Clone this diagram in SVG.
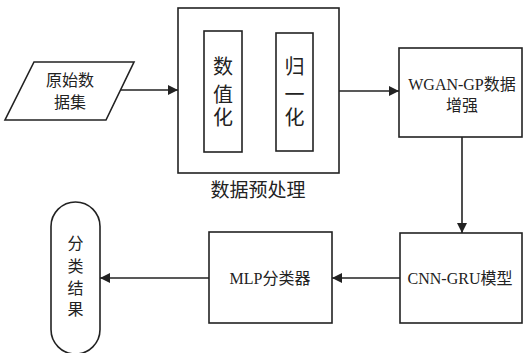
<svg xmlns="http://www.w3.org/2000/svg" width="523" height="353" viewBox="0 0 523 353">
<defs>
<marker id="ah" viewBox="0 0 10 10" refX="10" refY="5" markerWidth="10" markerHeight="10" markerUnits="userSpaceOnUse" orient="auto">
<path d="M0,0 L10,5 L0,10 z" fill="#222"/>
</marker>
</defs>
<style>
.s{fill:#fff;stroke:#222;stroke-width:1.6}
.t{font-family:"Liberation Serif","Noto Sans CJK SC",serif;fill:#222;text-anchor:middle}
.c{stroke:#222;stroke-width:1.6;fill:none;marker-end:url(#ah)}
</style>
<rect width="523" height="353" fill="#fff"/>
<g id="connectors">
<line class="c" x1="121" y1="90" x2="178" y2="90"/>
<line class="c" x1="339" y1="91" x2="399" y2="91"/>
<line class="c" x1="462" y1="137" x2="462" y2="233"/>
<line class="c" x1="400" y1="278" x2="332" y2="278"/>
<line class="c" x1="209" y1="278" x2="100" y2="278"/>
</g>
<g id="raw">
<polygon class="s" points="34,62 134,62 106,120 5,120"/>
<text class="t" x="70" y="86" font-size="16">原始数</text>
<text class="t" x="70" y="108" font-size="16">据集</text>
</g>
<g id="preprocess">
<rect class="s" x="178" y="8" width="161" height="165"/>
<text class="t" x="258" y="197" font-size="19">数据预处理</text>
</g>
<g id="numeric">
<rect class="s" x="204" y="31" width="38" height="121"/>
<text class="t" x="223" y="74" font-size="20">数</text>
<text class="t" x="223" y="102" font-size="20">值</text>
<text class="t" x="223" y="125" font-size="20">化</text>
</g>
<g id="normalize">
<rect class="s" x="276" y="33" width="37" height="118"/>
<text class="t" x="294.5" y="74" font-size="20">归</text>
<text class="t" x="294.5" y="102" font-size="20">一</text>
<text class="t" x="294.5" y="125" font-size="20">化</text>
</g>
<g id="wgan">
<rect class="s" x="399" y="48" width="123" height="89"/>
<text class="t" x="462" y="90" font-size="16">WGAN-GP数据</text>
<text class="t" x="462" y="111" font-size="16">增强</text>
</g>
<g id="cnngru">
<rect class="s" x="400" y="233" width="122" height="90"/>
<text class="t" x="460" y="284" font-size="16">CNN-GRU模型</text>
</g>
<g id="mlp">
<rect class="s" x="209" y="232" width="123" height="91"/>
<text class="t" x="270" y="284" font-size="16">MLP分类器</text>
</g>
<g id="result">
<rect class="s" x="51" y="202" width="49" height="152" rx="24.5" ry="24.5"/>
<text class="t" x="75.5" y="249" font-size="16">分</text>
<text class="t" x="75.5" y="272" font-size="16">类</text>
<text class="t" x="75.5" y="294" font-size="16">结</text>
<text class="t" x="75.5" y="315" font-size="16">果</text>
</g>
</svg>
